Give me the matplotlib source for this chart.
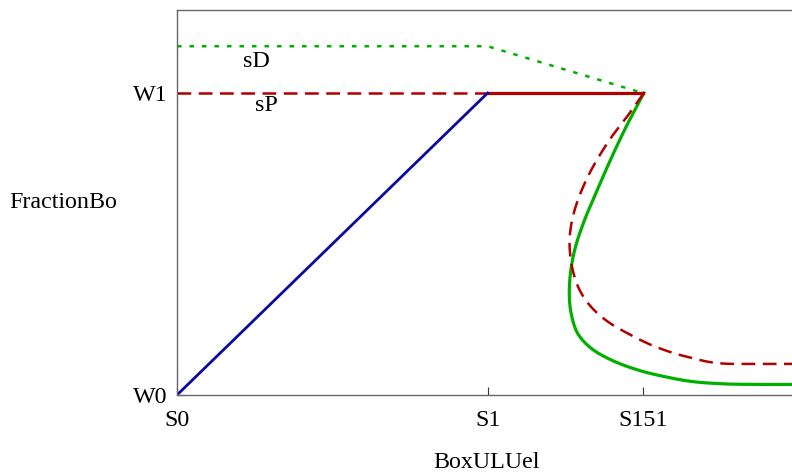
import matplotlib.pyplot as plt
import numpy as np

plt.rcParams['font.family'] = ['Liberation Serif', 'DejaVu Serif']

# tick positions / labels
x_ticks = [0.0, 1.0, 1.5]
x_tick_labels = ['S0', 'S1', 'S151']
y_ticks = [0.0, 1.0]
y_tick_labels = ['W0', 'W1']

# straight segments
blue_x = [0.0, 1.0]
blue_y = [0.0, 1.0]
red_solid_x = [1.0, 1.5]
red_solid_y = [1.0, 1.0]
red_dash_top_x = [0.0, 1.0]
red_dash_top_y = [1.0, 1.0]
green_dot_x = [0.0, 1.0, 1.5]
green_dot_y = [1.155, 1.155, 1.0]

# curved branches
green_x = [1.503, 1.457, 1.405, 1.353, 1.312, 1.283, 1.268, 1.263, 1.269, 1.290,
           1.333, 1.398, 1.483, 1.569, 1.655, 1.757, 1.864, 1.98]
green_y = [1.0, 0.911, 0.800, 0.679, 0.579, 0.491, 0.414, 0.337, 0.270, 0.204,
           0.155, 0.116, 0.083, 0.061, 0.045, 0.037, 0.035, 0.035]
red_x = [1.503, 1.457, 1.392, 1.328, 1.287, 1.268, 1.264, 1.274, 1.296,
         1.333, 1.387, 1.451, 1.526, 1.601, 1.660, 1.710, 1.760, 1.85, 1.98]
red_y = [1.0, 0.933, 0.844, 0.734, 0.635, 0.557, 0.491, 0.414, 0.348,
         0.292, 0.243, 0.204, 0.166, 0.138, 0.122, 0.110, 0.104, 0.103, 0.103]


def smooth(xs, ys, alpha=0.5):
    # centripetal Catmull-Rom through the points
    p = np.column_stack([xs, ys]).astype(float)
    p = np.vstack([2 * p[0] - p[1], p, 2 * p[-1] - p[-2]])
    out = []
    for i in range(1, len(p) - 2):
        p0, p1, p2, p3 = p[i - 1], p[i], p[i + 1], p[i + 2]
        t0 = 0.0
        t1 = t0 + np.linalg.norm(p1 - p0) ** alpha
        t2 = t1 + np.linalg.norm(p2 - p1) ** alpha
        t3 = t2 + np.linalg.norm(p3 - p2) ** alpha
        t = np.linspace(t1, t2, 25, endpoint=False)[:, None]
        a1 = (t1 - t) / (t1 - t0) * p0 + (t - t0) / (t1 - t0) * p1
        a2 = (t2 - t) / (t2 - t1) * p1 + (t - t1) / (t2 - t1) * p2
        a3 = (t3 - t) / (t3 - t2) * p2 + (t - t2) / (t3 - t2) * p3
        b1 = (t2 - t) / (t2 - t0) * a1 + (t - t0) / (t2 - t0) * a2
        b2 = (t3 - t) / (t3 - t1) * a2 + (t - t1) / (t3 - t1) * a3
        out.append((t2 - t) / (t2 - t1) * b1 + (t - t1) / (t2 - t1) * b2)
    out.append(p[-2][None, :])
    out = np.vstack(out)
    return out[:, 0], out[:, 1]


fig = plt.figure(figsize=(7.92, 4.74), dpi=100)
ax = fig.add_axes([177 / 792, 79 / 474, 1 - 177 / 792, 385 / 474])

blue = '#0a0aa0'
red = '#b00000'
green = '#00b000'
fs = 17.3

ax.plot(green_dot_x, green_dot_y, color=green, lw=1.8, dashes=(1.8, 3.2))
ax.plot(red_dash_top_x, red_dash_top_y, color=red, lw=1.8, dashes=(5.5, 3.0))
gx, gy = smooth(green_x, green_y)
ax.plot(gx, gy, color=green, lw=2.3)
rx, ry = smooth(red_x, red_y)
ax.plot(rx, ry, color=red, lw=1.8, dashes=(5.5, 3.0))
ax.plot(red_solid_x, red_solid_y, color=red, lw=2.3)
ax.plot(blue_x, blue_y, color=blue, lw=2.0)

ax.text(0.257, 1.106, 'sD', fontsize=fs, ha='center', va='center')
ax.text(0.289, 0.960, 'sP', fontsize=fs, ha='center', va='center')

ax.set_xlim(0, 1.98)
ax.set_ylim(0, 1.275)
ax.set_xticks(x_ticks)
ax.set_xticklabels(x_tick_labels, fontsize=fs)
ax.set_yticks(y_ticks)
ax.set_yticklabels(y_tick_labels, fontsize=fs)
ax.tick_params(direction='in', length=6, width=0.8, color='#333333')
ax.tick_params(axis='x', pad=11)
ax.tick_params(axis='y', pad=7)

for s in ['left', 'bottom', 'top']:
    ax.spines[s].set_color('#666666')
    ax.spines[s].set_linewidth(1.0)
ax.spines['right'].set_visible(False)

fig.text(63 / 792, 1 - 203 / 474, 'FractionBo', fontsize=fs, ha='center', va='center')
fig.text(487 / 792, 1 - 463 / 474, 'BoxULUel', fontsize=fs, ha='center', va='center')

fig.savefig('out.png', dpi=100)
